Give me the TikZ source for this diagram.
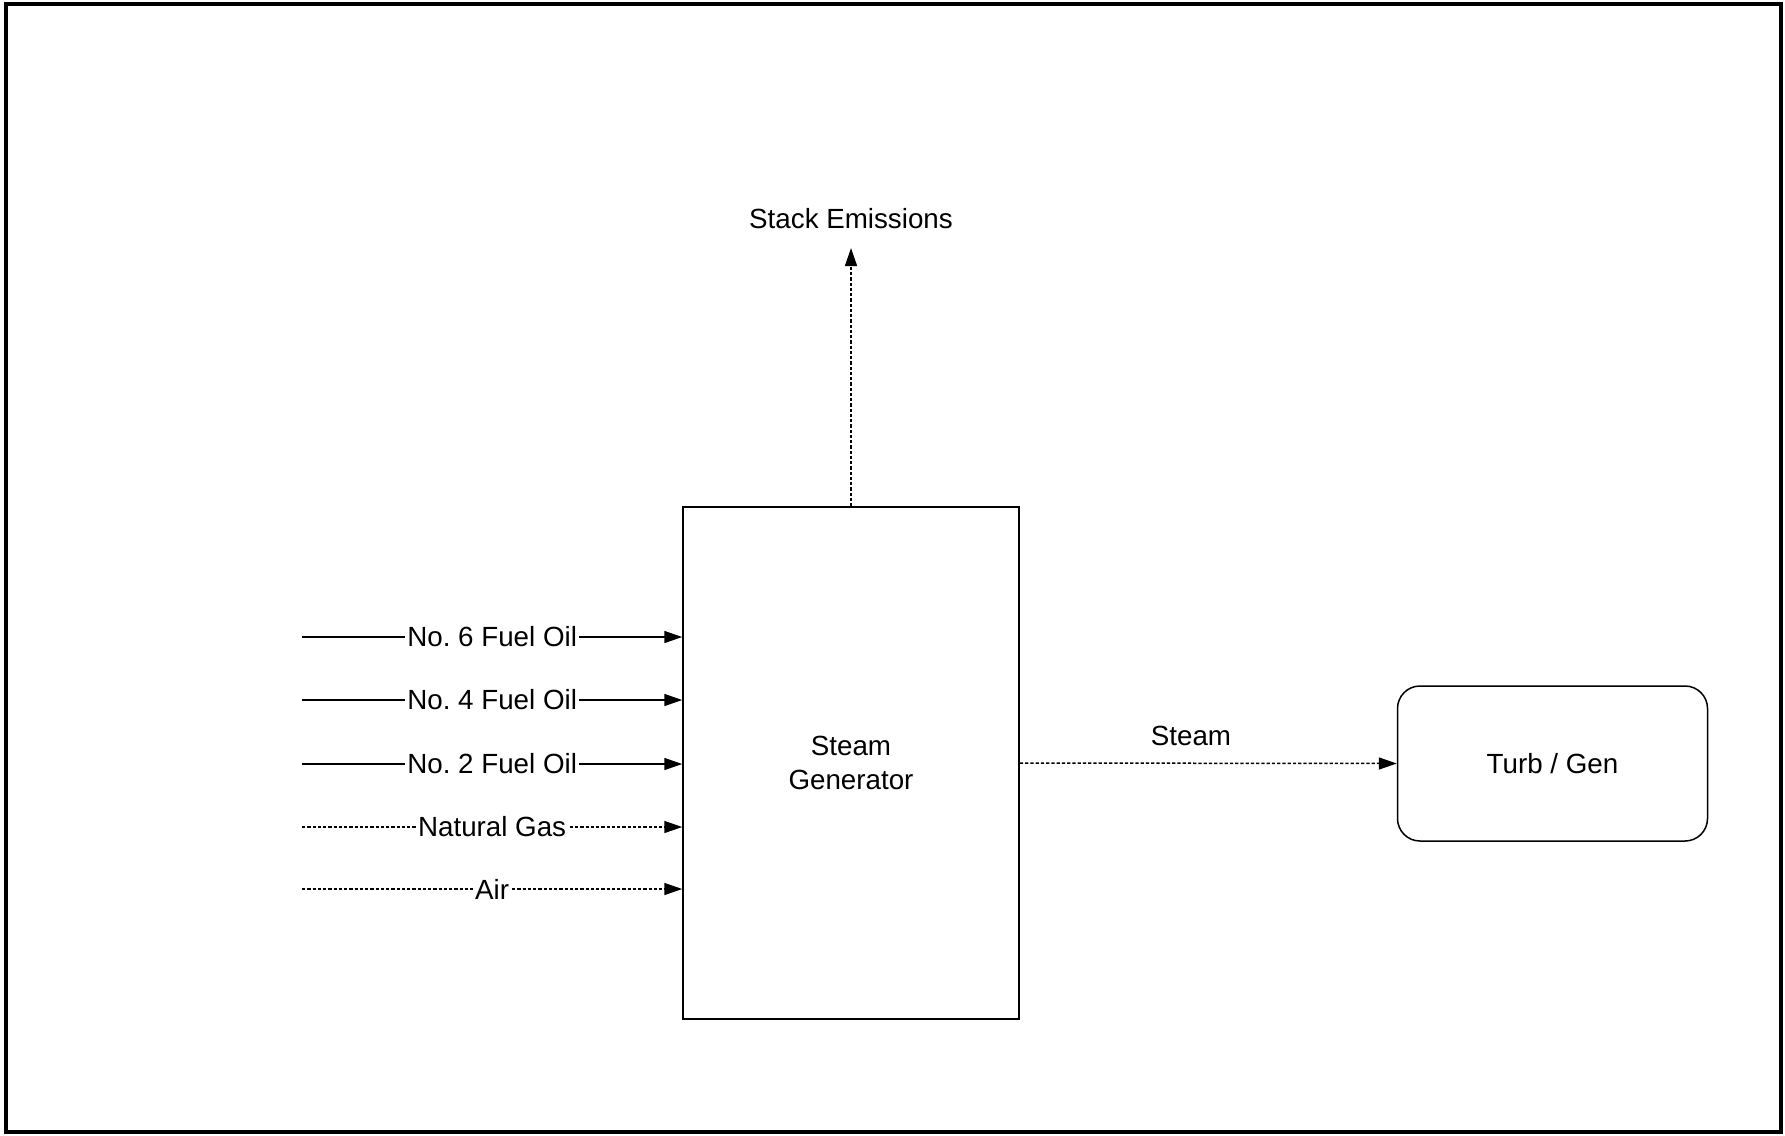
\documentclass[tikz,border=0pt]{standalone}
\usepackage{fontspec}
\setmainfont{Liberation Sans}
\usetikzlibrary{arrows.meta}
\frenchspacing
\begin{document}
\begin{tikzpicture}[x=0.4pt,y=-0.4pt,
  every node/.style={font=\fontsize{11.1}{13.6}\selectfont\frenchspacing, text=black},
  flow/.style={line width=0.6pt, -{Triangle[length=7.2pt,width=4.8pt]}},
  dflow/.style={flow, dash pattern=on 1.3pt off 0.8pt},
  lab/.style={fill=white, inner sep=1pt},
  box/.style={draw, line width=0.6pt, rectangle, align=center}]
\useasboundingbox (0,0) rectangle (1785,1135);
\draw[line width=1.3pt] (6,4) rectangle (1781,1132);

\node[box, minimum width=134.4pt, minimum height=204.8pt] (sg) at (851,763) {Steam\\Generator};
\node[box, rounded corners=9pt, minimum width=124pt, minimum height=62pt] (tg) at (1552.5,763.5) {Turb / Gen};

\coordinate (s6) at (302,637);
\coordinate (s4) at (302,700);
\coordinate (s2) at (302,764);
\coordinate (sng) at (302,827);
\coordinate (sair) at (302,889);

\draw[flow] (s6) -- node[lab]{No. 6 Fuel Oil} (s6 -| sg.west);
\draw[flow] (s4) -- node[lab]{No. 4 Fuel Oil} (s4 -| sg.west);
\draw[flow] (s2) -- node[lab]{No. 2 Fuel Oil} (s2 -| sg.west);
\draw[dflow] (sng) -- node[lab]{Natural Gas} (sng -| sg.west);
\draw[dflow] (sair) -- node[lab]{Air} (sair -| sg.west);

\coordinate (stacktip) at (851,248);
\node (stack) at (851,219) {Stack Emissions};
\draw[dflow] (sg.north) -- (stacktip);

\node (steamlab) at (1191,736) {Steam};
\draw[dflow] (sg.east) -- (tg.west);
\end{tikzpicture}
\end{document}
